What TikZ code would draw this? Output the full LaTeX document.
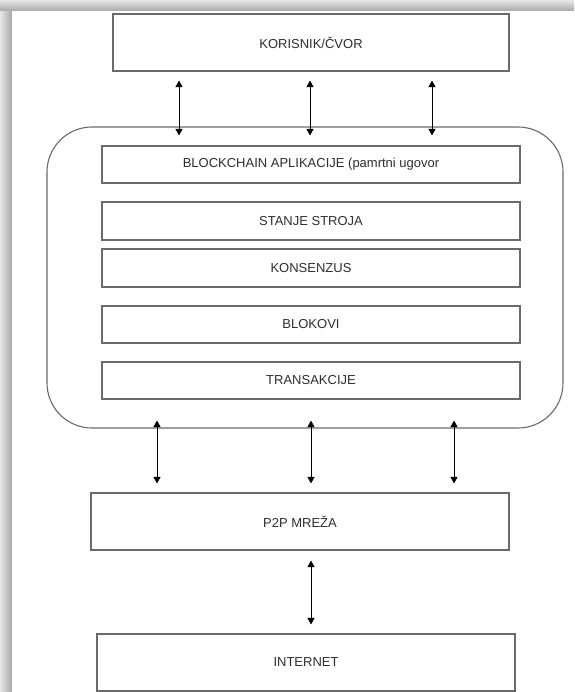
\documentclass[tikz,border=0pt]{standalone}
\usepackage{fontspec}
\setmainfont{Liberation Sans}
\usetikzlibrary{arrows.meta}
\definecolor{boxline}{HTML}{6A6A6A}
\definecolor{txt}{HTML}{2E2E2E}
\definecolor{shadowin}{HTML}{A8A8A8}
\definecolor{shadowout}{HTML}{E6E6E6}
\tikzset{
  layer/.style={draw=boxline, line width=1.1pt, minimum width=418pt, minimum height=37pt,
    inner sep=0pt, text=txt, font=\fontsize{13}{15}\selectfont},
  bigbox/.style={layer, minimum height=57pt},
  container/.style={draw=boxline, line width=1.1pt, rounded corners=45pt,
    minimum width=516pt, minimum height=301pt, inner sep=0pt},
  arr/.style={{Triangle[width=7pt,length=6.5pt]}-{Triangle[width=7pt,length=6.5pt]}, line width=0.9pt, black}
}
\begin{document}
\begin{tikzpicture}[x=1pt,y=-1pt]
\useasboundingbox (0,0) rectangle (574,692);
\fill[white] (0,0) rectangle (574,692);
% drop shadow frame
\shade[left color=shadowout, right color=shadowin] (0,0) rectangle (12,692);
\shade[top color=shadowout, bottom color=shadowin] (0,0) rectangle (574,11);
\fill[white] (12,11) rectangle (574,692);

\node[bigbox, minimum width=396pt] (kor) at (311,42.5) {KORISNIK/ČVOR};
\node[container] (cont) at (305,277.5) {};
\node[layer] (b1) at (311,164.5) {BLOCKCHAIN APLIKACIJE (pamrtni ugovor};
\node[layer, minimum height=38pt] (b2) at (311,221) {STANJE STROJA};
\node[layer, minimum height=38pt] (b3) at (311,268) {KONSENZUS};
\node[layer] (b4) at (311,324.5) {BLOKOVI};
\node[layer] (b5) at (311,380.5) {TRANSAKCIJE};
\node[bigbox] (p2p) at (300,521.5) {P2P MREŽA};
\node[bigbox] (net) at (306,662.5) {INTERNET};

\coordinate (t1) at (179,0);
\coordinate (t2) at (310,0);
\coordinate (t3) at (432,0);
\coordinate (u1) at (157,0);
\coordinate (u2) at (311,0);
\coordinate (u3) at (454,0);

\foreach \c in {t1,t2,t3}
  \draw[arr, shorten <=9pt, shorten >=-9pt] (kor.south -| \c) -- (cont.north -| \c);
\foreach \c in {u1,u2,u3}
  \draw[arr, shorten <=-8pt, shorten >=9pt] (cont.south -| \c) -- (p2p.north -| \c);
\draw[arr, shorten <=10pt, shorten >=9pt] (p2p.south -| u2) -- (net.north -| u2);
\end{tikzpicture}
\end{document}
